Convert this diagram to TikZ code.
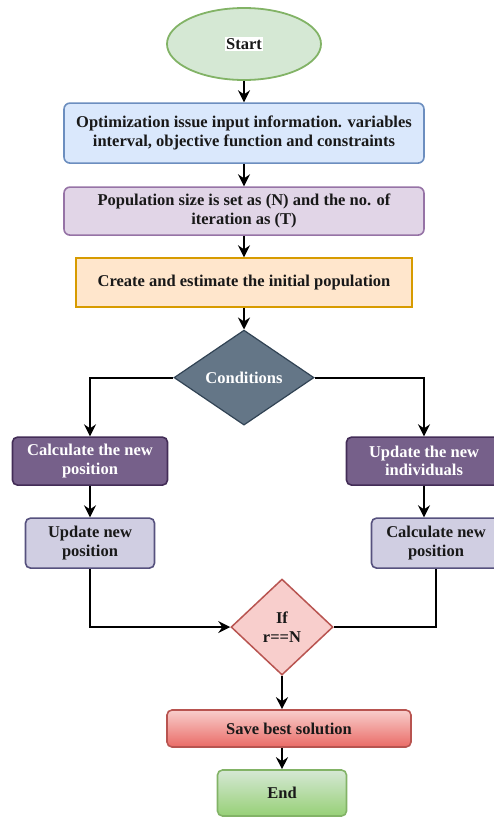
\documentclass[tikz,border=0pt]{standalone}
\usepackage{fontspec}
\setmainfont{Liberation Serif}
\usetikzlibrary{shapes.geometric, arrows.meta, positioning}

\definecolor{greenfill}{HTML}{D5E8D4}
\definecolor{greenline}{HTML}{82B366}
\definecolor{greendeep}{HTML}{97D077}
\definecolor{bluefill}{HTML}{DAE8FC}
\definecolor{blueline}{HTML}{6C8EBF}
\definecolor{lilacfill}{HTML}{E1D5E7}
\definecolor{lilacline}{HTML}{9673A6}
\definecolor{orangefill}{HTML}{FFE6CC}
\definecolor{orangeline}{HTML}{D79B00}
\definecolor{slatefill}{HTML}{647687}
\definecolor{slateline}{HTML}{314354}
\definecolor{plumfill}{HTML}{76608A}
\definecolor{plumline}{HTML}{432D57}
\definecolor{lavfill}{HTML}{D0CEE2}
\definecolor{lavline}{HTML}{56517E}
\definecolor{redfill}{HTML}{F8CECC}
\definecolor{redline}{HTML}{B85450}
\definecolor{reddeep}{HTML}{EA6B66}

\begin{document}
\begin{tikzpicture}[x=1pt, y=1pt,
    basefont/.style={font=\bfseries\fontsize{16.5}{18.5}\selectfont, text=black!90, align=center},
    startstop/.style={ellipse, draw=greenline, line width=1.8pt, fill=greenfill, minimum width=154pt, minimum height=72pt, basefont},
    endbox/.style={rectangle, rounded corners=5pt, draw=greenline, line width=1.6pt, top color=greenfill, bottom color=greendeep, minimum width=129pt, minimum height=46pt, basefont},
    inputbox/.style={rectangle, rounded corners=6pt, draw=blueline, line width=1.6pt, fill=bluefill, minimum width=360pt, minimum height=60pt, inner sep=2pt, basefont},
    setbox/.style={rectangle, rounded corners=6pt, draw=lilacline, line width=1.6pt, fill=lilacfill, minimum width=360pt, minimum height=48pt, inner sep=2pt, basefont},
    initbox/.style={rectangle, draw=orangeline, line width=1.6pt, fill=orangefill, minimum width=336pt, minimum height=49pt, basefont},
    condition/.style={diamond, draw=slateline, line width=1.2pt, fill=slatefill, minimum width=140pt, minimum height=95pt, aspect=1.47, inner sep=1pt, basefont, text=white},
    darkbox/.style={rectangle, rounded corners=5pt, draw=plumline, line width=1.6pt, fill=plumfill, minimum width=155pt, minimum height=48pt, inner sep=2pt, basefont, text=white},
    lightbox/.style={rectangle, rounded corners=5pt, draw=lavline, line width=1.6pt, fill=lavfill, minimum width=129pt, minimum height=50pt, inner sep=2pt, basefont},
    check/.style={diamond, draw=redline, line width=1.5pt, fill=redfill, minimum width=102pt, minimum height=96pt, aspect=1.06, inner sep=0pt, basefont},
    savebox/.style={rectangle, rounded corners=5pt, draw=redline, line width=1.6pt, top color=redfill, bottom color=reddeep, minimum width=244pt, minimum height=37pt, basefont},
    arrow/.style={-{Stealth[length=12pt, width=12pt, inset=4pt]}, line width=1.8pt},
    line/.style={line width=1.8pt}
]
\useasboundingbox (0,0) rectangle (493,-817);

\node[startstop] (start) at (244,-44) {{\setlength{\fboxsep}{1pt}\colorbox{white}{Start}}};
\node[inputbox, below=21.4pt of start] (input) {Optimization issue input information. variables\\interval, objective function and constraints};
\node[setbox, below=22.4pt of input] (setup) {Population size is set as (N) and the no. of\\iteration as (T)};
\node[initbox, below=21.4pt of setup] (init) {Create and estimate the initial population};
\node[condition, below=21.6pt of init] (cond) {Conditions};

\node[darkbox, below=10.6pt of cond, xshift=-154pt] (calcpos) {Calculate the new\\position};
\node[darkbox, below=10.6pt of cond, xshift=180pt] (updind) {Update the new\\individuals};
\node[lightbox, below=31.4pt of calcpos] (updpos) {Update new\\position};
\node[lightbox, below=31.4pt of updind, xshift=12pt] (calcnew) {Calculate new\\position};

\node[check, below=152.6pt of cond, xshift=38pt] (ifcheck) {If\\r==N};
\node[savebox, below=33.4pt of ifcheck, xshift=7pt] (save) {Save best solution};
\node[endbox, below=21.4pt of save, xshift=-7pt] (end) {End};

% Arrows
\draw[arrow] (start) -- (input);
\draw[arrow] (input) -- (setup);
\draw[arrow] (setup) -- (init);
\draw[arrow] (init) -- (cond);
\draw[arrow] (cond.west) -| (calcpos.north);
\draw[arrow] (cond.east) -| (updind.north);
\draw[arrow] (calcpos) -- (updpos);
\draw[arrow] (updind.south) -- (updind.south |- calcnew.north);
\draw[arrow] (updpos.south) |- (ifcheck.west);
\draw[line] (calcnew.south) |- (ifcheck.east);
\draw[arrow] (ifcheck.south) -- (ifcheck.south |- save.north);
\draw[arrow] (end.north |- save.south) -- (end.north);

\end{tikzpicture}
\end{document}
